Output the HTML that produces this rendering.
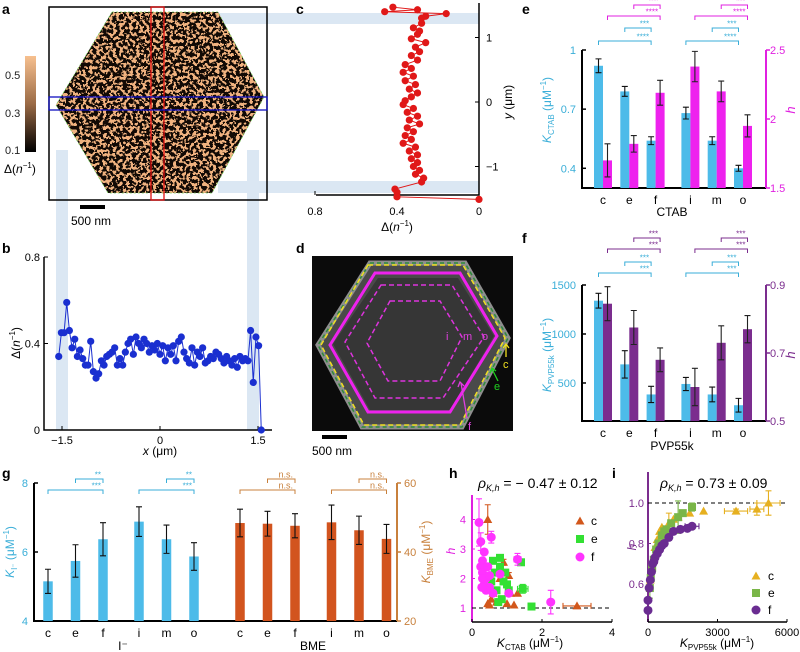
<!DOCTYPE html>
<html><head><meta charset="utf-8"><style>
html,body{margin:0;padding:0;background:#fff;}
svg{display:block;font-family:"Liberation Sans",Arial,sans-serif;}
</style></head><body>
<svg id="fig" width="800" height="652" viewBox="0 0 800 652" xmlns="http://www.w3.org/2000/svg">
<defs>
<clipPath id="hexA"><polygon points="112,12 218,12 264,97 212,193 108,193 56,105"/></clipPath>
<filter id="noise" x="0" y="0" width="100%" height="100%">
<feTurbulence type="fractalNoise" baseFrequency="0.3" numOctaves="2" seed="7" result="t"/>
<feColorMatrix in="t" type="matrix" values="0 0 0 0 0  0 0 0 0 0  0 0 0 0 0  4 0 0 0 -1.6" result="a"/>
<feComponentTransfer in="a" result="b"><feFuncA type="discrete" tableValues="0 1"/></feComponentTransfer>
<feFlood flood-color="#f0b27f" result="f"/>
<feComposite in="f" in2="b" operator="in"/>
</filter>
<linearGradient id="cbar" x1="0" y1="1" x2="0" y2="0"><stop offset="0" stop-color="#000"/><stop offset="0.5" stop-color="#9a6a45"/><stop offset="1" stop-color="#f7c08f"/></linearGradient>
</defs>

<g fill="#dbe7f3">
<rect x="56" y="150" width="12" height="280"/>
<rect x="247" y="150" width="12" height="280"/>
<rect x="218" y="13" width="261" height="11"/>
<rect x="218" y="181" width="261" height="12"/>
</g>

<g>
<text x="2" y="14" font-size="14" font-weight="bold">a</text>
<rect x="49" y="7" width="218" height="193" fill="none" stroke="#000" stroke-width="1.5"/>
<g clip-path="url(#hexA)">
<rect x="49" y="7" width="218" height="193" fill="#120a05"/>
<rect x="49" y="7" width="218" height="193" filter="url(#noise)"/>
</g>
<polygon points="112,12 218,12 264,97 212,193 108,193 56,105" fill="none" stroke="#7ccf5c" stroke-width="0.8" stroke-dasharray="2,2"/>
<rect x="151" y="7" width="13" height="193" fill="none" stroke="#e01010" stroke-width="1.3"/>
<rect x="49" y="97" width="218" height="13" fill="none" stroke="#1010c0" stroke-width="1.3"/>
<rect x="25" y="56" width="11" height="96" fill="url(#cbar)"/>
<g font-size="11" fill="#222">
<text x="5" y="79">0.5</text><text x="5" y="117">0.3</text><text x="5" y="154">0.1</text>
</g>
<text x="4" y="173" font-size="12">Δ(<tspan font-style="italic">n</tspan><tspan font-size="8" dy="-5">−1</tspan><tspan dy="5">)</tspan></text>
<rect x="80" y="205" width="25" height="4" fill="#000"/>
<text x="71" y="225" font-size="12">500 nm</text>
</g>

<g>
<text x="296" y="14" font-size="14" font-weight="bold">c</text>
<text x="397" y="231" font-size="12" text-anchor="middle">Δ(<tspan font-style="italic">n</tspan><tspan font-size="8" dy="-5">−1</tspan><tspan dy="5">)</tspan></text>
<text transform="translate(512,102) rotate(-90)" font-size="12" text-anchor="middle"><tspan font-style="italic">y</tspan> (μm)</text>
</g>

<g>
<text x="2" y="253" font-size="14" font-weight="bold">b</text>
<text transform="translate(20,343) rotate(-90)" font-size="12" text-anchor="middle">Δ(<tspan font-style="italic">n</tspan><tspan font-size="8" dy="-5">−1</tspan><tspan dy="5">)</tspan></text>
<text x="160" y="455" font-size="12" text-anchor="middle"><tspan font-style="italic">x</tspan> (μm)</text>
</g>

<g>
<text x="296" y="253" font-size="14" font-weight="bold">d</text>
<rect x="312" y="256" width="201" height="175" fill="#0b0b0b"/>
<polygon points="370,263 465,263 508,338 462,427 362,427 318,345" fill="#4a4a4a" stroke="#8e8e8e" stroke-width="5"/>
<polygon points="378,278 458,278 494,336 450,410 370,410 333,344" fill="#363636"/>
<polygon points="370,263 465,263 508,338 462,427 362,427 318,345" fill="none" stroke="#2e8b3a" stroke-width="1.5" stroke-dasharray="4,3"/>
<polygon points="368,265 463,265 505,338 460,425 364,425 321,345" fill="none" stroke="#f0e020" stroke-width="1.5" stroke-dasharray="5,3"/>
<polygon points="375,273 460,273 497,336 450,412 368,412 330,345" fill="none" stroke="#ee22ee" stroke-width="3"/>
<polygon points="381,285 452,285 484,337 443,398 375,398 345,342" fill="none" stroke="#dd33dd" stroke-width="1.5" stroke-dasharray="5,3"/>
<polygon points="390,301 440,301 462,337 440,381 388,381 367,343" fill="none" stroke="#dd33dd" stroke-width="1.5" stroke-dasharray="5,3"/>
<g font-size="11" fill="#e040e0"><text x="446" y="340">i</text><text x="463" y="340">m</text><text x="482" y="340">o</text></g>
<path d="M506,357 V345 M503,348 L506,344 L509,348" stroke="#f0e020" stroke-width="1.3" fill="none"/>
<text x="503" y="368" font-size="11" fill="#f0e020">c</text>
<path d="M498,381 L492,369 M490,373 L492,368 L496,371" stroke="#20d020" stroke-width="1.3" fill="none"/>
<text x="494" y="390" font-size="11" fill="#20d020">e</text>
<path d="M467,418 L461,383 M458,387 L460,382 L464,386" stroke="#e040e0" stroke-width="1.3" fill="none"/>
<text x="468" y="430" font-size="11" fill="#e040e0">f</text>
<rect x="322" y="435" width="25" height="4" fill="#000"/>
<text x="312" y="455" font-size="12">500 nm</text>
</g>

<g>
<text x="522" y="14" font-size="14" font-weight="bold">e</text>
<text transform="translate(551,110) rotate(-90)" font-size="12" fill="#3aaed8" text-anchor="middle"><tspan font-style="italic">K</tspan><tspan font-size="8" dy="3">CTAB</tspan><tspan dy="-3"> (μM</tspan><tspan font-size="8" dy="-5">−1</tspan><tspan dy="5">)</tspan></text>
<text transform="translate(795,110) rotate(-90)" font-size="13" fill="#e020e0" font-style="italic" text-anchor="middle">h</text>
<text x="672" y="216" font-size="12" text-anchor="middle">CTAB</text>
</g>
<g>
<text x="522" y="243" font-size="14" font-weight="bold">f</text>
<text transform="translate(551,355) rotate(-90)" font-size="12" fill="#3aaed8" text-anchor="middle"><tspan font-style="italic">K</tspan><tspan font-size="8" dy="3">PVP55k</tspan><tspan dy="-3"> (μM</tspan><tspan font-size="8" dy="-5">−1</tspan><tspan dy="5">)</tspan></text>
<text transform="translate(795,355) rotate(-90)" font-size="13" fill="#7b2d8e" font-style="italic" text-anchor="middle">h</text>
<text x="672" y="450" font-size="12" text-anchor="middle">PVP55k</text>
</g>
<g>
<text x="2" y="478" font-size="14" font-weight="bold">g</text>
<text transform="translate(14,552) rotate(-90)" font-size="12" fill="#3aaed8" text-anchor="middle"><tspan font-style="italic">K</tspan><tspan font-size="8" dy="3">I⁻</tspan><tspan dy="-3"> (μM</tspan><tspan font-size="8" dy="-5">−1</tspan><tspan dy="5">)</tspan></text>
<text transform="translate(430,552) rotate(-90)" font-size="12" fill="#c8803c" text-anchor="middle"><tspan font-style="italic">K</tspan><tspan font-size="8" dy="3">BME</tspan><tspan dy="-3"> (μM</tspan><tspan font-size="8" dy="-5">−1</tspan><tspan dy="5">)</tspan></text>
<text x="123" y="650" font-size="12" text-anchor="middle">I⁻</text>
<text x="313" y="650" font-size="12" text-anchor="middle">BME</text>
</g>
<g>
<text x="449" y="478" font-size="14" font-weight="bold">h</text>
<text x="478" y="488" font-size="14"><tspan font-style="italic">ρ</tspan><tspan font-size="9" dy="3" font-style="italic">K,h</tspan><tspan dy="-3"> = − 0.47 ± 0.12</tspan></text>
<text transform="translate(455,551) rotate(-90)" font-size="12" fill="#e020e0" font-style="italic" text-anchor="middle">h</text>
<text x="530" y="647" font-size="12" text-anchor="middle"><tspan font-style="italic">K</tspan><tspan font-size="8" dy="3">CTAB</tspan><tspan dy="-3"> (μM</tspan><tspan font-size="8" dy="-5">−1</tspan><tspan dy="5">)</tspan></text>
</g>
<g>
<text x="612" y="478" font-size="14" font-weight="bold">i</text>
<text x="660" y="488" font-size="14"><tspan font-style="italic">ρ</tspan><tspan font-size="9" dy="3" font-style="italic">K,h</tspan><tspan dy="-3"> = 0.73 ± 0.09</tspan></text>
<text transform="translate(636,547) rotate(-90)" font-size="12" fill="#7b2d8e" font-style="italic" text-anchor="middle">h</text>
<text x="717" y="647" font-size="12" text-anchor="middle"><tspan font-style="italic">K</tspan><tspan font-size="8" dy="3">PVP55k</tspan><tspan dy="-3"> (μM</tspan><tspan font-size="8" dy="-5">−1</tspan><tspan dy="5">)</tspan></text>
</g>
</svg>
<script>
const bDelta = [0.34,0.45,0.45,0.59,0.46,0.38,0.42,0.34,0.37,0.33,0.30,0.30,0.41,0.27,0.24,0.26,0.32,0.30,0.34,0.35,0.36,0.38,0.30,0.33,0.30,0.36,0.40,0.42,0.35,0.43,0.40,0.38,0.42,0.40,0.36,0.39,0.37,0.40,0.35,0.39,0.32,0.38,0.35,0.39,0.32,0.41,0.43,0.36,0.33,0.31,0.38,0.30,0.36,0.34,0.38,0.31,0.32,0.34,0.33,0.36,0.35,0.33,0.31,0.34,0.32,0.30,0.33,0.29,0.34,0.32,0.33,0.32,0.46,0.22,0.43,0.39,0.00];
const bXStart = -1.55, bXEnd = 1.55;
const cY = [1.47,1.43,1.40,1.37,1.33,1.30,1.22,1.15,1.10,1.05,0.98,0.92,0.85,0.78,0.72,0.65,0.58,0.52,0.46,0.40,0.33,0.27,0.20,0.14,0.08,0.02,-0.04,-0.10,-0.16,-0.22,-0.28,-0.34,-0.40,-0.46,-0.52,-0.58,-0.64,-0.70,-0.76,-0.82,-0.88,-0.94,-1.00,-1.06,-1.12,-1.18,-1.24,-1.35,-1.40,-1.47,-1.51];
const cDelta = [0.42,0.30,0.46,0.16,0.26,0.28,0.28,0.32,0.29,0.30,0.33,0.26,0.31,0.29,0.33,0.30,0.36,0.33,0.37,0.32,0.36,0.31,0.34,0.30,0.33,0.36,0.37,0.32,0.35,0.30,0.34,0.29,0.35,0.32,0.36,0.33,0.37,0.31,0.34,0.30,0.33,0.30,0.32,0.29,0.31,0.27,0.28,0.41,0.40,0.40,0.00];

const regions = ['c','e','f','i','m','o'];
const eK = [0.92,0.79,0.54,0.68,0.54,0.40];
const eKerr = [0.035,0.025,0.02,0.03,0.02,0.015];
const eH = [1.70,1.82,2.19,2.38,2.20,1.95];
const eHerr = [0.12,0.06,0.09,0.11,0.075,0.08];
const eLeftTicks = [0.4,0.7,1];
const eRightTicks = [1.5,2,2.5];

const fK = [1340,690,383,490,383,273];
const fKerr = [75,140,83,67,75,70];
const fH = [0.845,0.775,0.68,0.60,0.73,0.77];
const fHerr = [0.05,0.05,0.035,0.055,0.05,0.04];
const fLeftTicks = [500,1000,1500];
const fRightTicks = [0.5,0.7,0.9];

const gI = [5.15,5.74,6.37,6.88,6.37,5.87];
const gIerr = [0.35,0.47,0.48,0.43,0.41,0.40];
const gBME = [48.4,48.2,47.6,48.6,46.3,43.8];
const gBMEerr = [4.0,3.6,3.5,5.0,4.1,4.2];
const gLeftTicks = [4,6,8];
const gRightTicks = [20,40,60];

const hcK = [0.45,0.5,0.45,0.9,1.05,1.1,1.2,3.0,0.6,0.7,1.0,1.3,0.8,0.55];
const hcH = [4.0,1.1,1.15,2.55,2.1,1.5,1.1,1.07,1.5,1.2,1.15,1.5,2.0,1.3];
const hcYerr = [0.5,0,0,0.1,0.1,0,0,0,0,0,0,0,0,0];
const hcXerr = [0,0,0,0,0,0,0,0.4,0,0,0,0,0,0];
const heK = [1.4,1.45,1.7,0.6,0.8,0.9,0.7,0.85,1.0,0.75,1.05,0.65,0.95,0.55,0.8];
const heH = [2.55,1.65,1.05,2.6,2.4,1.9,1.6,1.3,1.8,1.2,1.6,2.2,2.2,1.9,2.7];
const heYerr = [0,0.15,0,0,0,0,0,0,0,0,0,0,0,0,0];
const heXerr = [0,0.15,0,0,0,0,0,0,0,0,0,0,0,0,0];
const hfK = [0.2,0.25,0.55,1.3,0.35,0.3,0.25,0.3,0.4,0.35,0.5,0.6,0.8,1.05,0.45,0.3,0.4,2.25,0.28,0.5];
const hfH = [3.9,3.25,3.4,2.65,2.9,2.6,2.4,2.2,2.0,1.8,1.7,1.5,2.15,1.5,2.4,2.0,1.6,1.2,1.7,2.1];
const hfYerr = [0.8,0.3,0.2,0.2,0,0,0,0,0,0,0,0,0,0,0,0,0,0.4,0,0];
const hfXerr = [0,0,0,0.1,0,0,0,0,0,0,0,0,0,0,0,0,0,0,0,0];
const hXTicks = [0,2,4];
const hYTicks = [1,2,3,4];

const icK = [5200,4700,3800,2400,1800,1300,900,600,400,300,200,150,100,700,1100,500];
const icH = [1.0,0.97,0.96,0.96,0.95,0.93,0.90,0.88,0.82,0.78,0.72,0.68,0.62,0.85,0.92,0.86];
const icYerr = [0.06,0.03,0.01,0,0,0,0.05,0,0,0,0,0,0,0,0,0];
const icXerr = [500,300,500,0,0,0,0,0,0,0,0,0,0,0,0,0];
const ieK = [1900,1300,1000,800,600,450,350,250,180,120,80,1500,700];
const ieH = [0.98,0.93,0.90,0.87,0.84,0.80,0.77,0.72,0.68,0.63,0.58,0.95,0.86];
const ieYerr = [0.02,0.08,0,0,0,0,0,0,0,0,0.05,0,0];
const ieXerr = [0,0,0,0,0,0,0,0,0,0,0,0,0];
const ifK = [0,0,50,100,150,200,300,500,700,900,1100,1400,1700,1900,250,400,600];
const ifH = [0.47,0.52,0.58,0.62,0.66,0.70,0.73,0.77,0.80,0.83,0.86,0.87,0.875,0.885,0.71,0.75,0.79];
const ifYerr = [0,0,0,0,0,0,0,0,0,0,0,0,0,0.01,0,0,0];
const ifXerr = [0,0,0,0,0,0,0,0,0,0,0,0,0,300,0,0,0];
const iXTicks = [0,3000,6000];
const iYTicks = [0.6,0.8,1.0];

const NS = 'http://www.w3.org/2000/svg';
const svg = document.getElementById('fig');
function el(tag, attrs, name, parent) {
  const e = document.createElementNS(NS, tag);
  for (const k in attrs) e.setAttribute(k, attrs[k]);
  
  
  (parent || svg).appendChild(e);
  return e;
}
function txt(x, y, s, attrs, name, parent) {
  const t = el('text', Object.assign({x: x, y: y, 'font-size': 11}, attrs), name, parent);
  t.textContent = s;
  return t;
}
function lin(d0, d1, r0, r1) { return v => r0 + (v - d0) / (d1 - d0) * (r1 - r0); }
function errV(x, y0, y1, col, name, g) {
  el('path', {d: `M${x},${y0}V${y1}M${x-3},${y0}h6M${x-3},${y1}h6`, stroke: col, 'stroke-width': 1.1, fill: 'none'}, name, g);
}
function errH(y, x0, x1, col, name, g) {
  el('path', {d: `M${x0},${y}H${x1}M${x0},${y-3}v6M${x1},${y-3}v6`, stroke: col, 'stroke-width': 1.1, fill: 'none'}, name, g);
}
function fmt(v){ return (v<0?'−':'') + Math.abs(v); }

(function(){
  const g = el('g', {}, 'panel-b-chart');
  const x = lin(-1.5, 1.5, 62, 258), y = lin(0, 0.8, 430, 257);
  el('path', {d: 'M44,257V430H272', stroke: '#000', 'stroke-width': 1.5, fill: 'none'}, 'b-axes', g);
  [0, 0.4, 0.8].forEach(v => {
    el('path', {d: `M44,${y(v)}h4`, stroke: '#000'}, 'b-y-tick', g);
    txt(40, y(v) + 4, String(v), {'text-anchor': 'end'}, 'b-y-tick-label', g);
  });
  [-1.5, 0, 1.5].forEach(v => {
    el('path', {d: `M${x(v)},430v-4`, stroke: '#000'}, 'b-x-tick', g);
    txt(x(v), 444, fmt(v), {'text-anchor': 'middle'}, 'b-x-tick-label', g);
  });
  const step = (bXEnd - bXStart) / (bDelta.length - 1);
  const pts = bDelta.map((d, i) => [x(bXStart + i * step), y(d)]);
  el('polyline', {points: pts.map(p => p.join(',')).join(' '), fill: 'none', stroke: '#1a2fd0', 'stroke-width': 1}, 'b-profile-line', g);
  pts.forEach(p => el('circle', {cx: p[0], cy: p[1], r: 3.6, fill: '#1a2fd0'}, 'b-profile-point', g));
})();

(function(){
  const g = el('g', {}, 'panel-c-chart');
  const x = lin(0, 0.4, 479, 397), y = lin(0, 1, 102, 37.5);
  el('path', {d: 'M479,3V195H316', stroke: '#000', 'stroke-width': 1.5, fill: 'none'}, 'c-axes', g);
  [-1, 0, 1].forEach(v => {
    el('path', {d: `M479,${y(v)}h-4`, stroke: '#000'}, 'c-y-tick', g);
    txt(486, y(v) + 4, fmt(v), {}, 'c-y-tick-label', g);
  });
  [0, 0.4, 0.8].forEach(v => {
    el('path', {d: `M${x(v)},195v-4`, stroke: '#000'}, 'c-x-tick', g);
    txt(x(v), 215, String(v), {'text-anchor': 'middle'}, 'c-x-tick-label', g);
  });
  const pts = cY.map((v, i) => [x(cDelta[i]), y(v)]);
  el('polyline', {points: pts.map(p => p.join(',')).join(' '), fill: 'none', stroke: '#e01818', 'stroke-width': 1}, 'c-profile-line', g);
  pts.forEach(p => el('circle', {cx: p[0], cy: p[1], r: 3.6, fill: '#e01818'}, 'c-profile-point', g));
})();

function barPanel(o) {
  const g = el('g', {}, o.name);
  const yl = lin(o.ld[0], o.ld[1], o.base, o.top), yr = lin(o.rd[0], o.rd[1], o.base, o.top);
  const cx = i => o.x0 + i * o.step + (i >= 3 ? o.gap : 0);
  el('path', {d: `M${o.ax0},${o.top}V${o.base}H${o.ax1}`, stroke: '#000', 'stroke-width': 2, fill: 'none'}, o.name + '-left-axis', g);
  el('path', {d: `M${o.ax1},${o.top}V${o.base}`, stroke: o.rcol, 'stroke-width': 2, fill: 'none'}, o.name + '-right-axis', g);
  o.lt.forEach(v => {
    el('path', {d: `M${o.ax0},${yl(v)}h4`, stroke: '#000', 'stroke-width': 1.5}, 'left-tick', g);
    txt(o.ax0 - 6, yl(v) + 4, String(v), {'text-anchor': 'end', fill: o.lcolText}, 'left-tick-label', g);
  });
  o.rt.forEach(v => {
    el('path', {d: `M${o.ax1},${yr(v)}h4`, stroke: o.rcol, 'stroke-width': 1.5}, 'right-tick', g);
    txt(o.ax1 + 4, yr(v) + 4, String(v), {fill: o.rcol}, 'right-tick-label', g);
  });
  o.cats.forEach((c, i) => {
    const x = cx(i);
    txt(x, o.base + 16, c, {'text-anchor': 'middle', 'font-size': 12}, 'category-label', g);
    el('rect', {x: x - o.bw, y: yl(o.lv[i]), width: o.bw, height: o.base - yl(o.lv[i]), fill: '#4dbbe9'}, 'bar-k-' + c, g);
    el('rect', {x: x, y: yr(o.rv[i]), width: o.bw, height: o.base - yr(o.rv[i]), fill: o.rbar}, 'bar-h-' + c, g);
    errV(x - o.bw / 2, yl(o.lv[i] - o.le[i]), yl(o.lv[i] + o.le[i]), '#111', 'errorbar-k', g);
    errV(x + o.bw / 2, yr(o.rv[i] - o.re[i]), yr(o.rv[i] + o.re[i]), '#222', 'errorbar-h', g);
  });
  [0, 3].forEach(s => {
    const br = (a, b, yy, col, lab) => {
      el('path', {d: `M${a},${yy + 4}V${yy}H${b}V${yy + 4}`, stroke: col, fill: 'none', 'stroke-width': 1}, 'significance-bracket', g);
      txt(b - 2, yy - 1.5, lab, {'text-anchor': 'end', fill: col, 'font-size': 8}, 'significance-label', g);
    };
    const h = o.bw / 2;
    br(cx(s) - h, cx(s + 2) - h, o.by[0], '#3aaed8', o.sl[0]);
    br(cx(s + 1) - h, cx(s + 2) - h, o.by[1], '#3aaed8', o.sl[1]);
    br(cx(s) + h, cx(s + 2) + h, o.by[2], o.rcol, o.sl[2]);
    br(cx(s + 1) + h, cx(s + 2) + h, o.by[3], o.rcol, o.sl[3]);
  });
}
barPanel({name: 'panel-e-chart', cats: regions, lv: eK, le: eKerr, rv: eH, re: eHerr, ld: [0.3, 1], rd: [1.5, 2.5],
  base: 188, top: 50, ax0: 582, ax1: 766, x0: 603, step: 26.3, gap: 8.5, bw: 9, lt: eLeftTicks, rt: eRightTicks,
  lcolText: '#3aaed8', rcol: '#e020e0', rbar: '#ee22ee', by: [41, 28, 16, 5], sl: ['****', '***', '****', '***']});
barPanel({name: 'panel-f-chart', cats: regions, lv: fK, le: fKerr, rv: fH, re: fHerr, ld: [112, 1500], rd: [0.5, 0.9],
  base: 421, top: 285, ax0: 582, ax1: 766, x0: 603, step: 26.3, gap: 8.5, bw: 9, lt: fLeftTicks, rt: fRightTicks,
  lcolText: '#3aaed8', rcol: '#7b2d8e', rbar: '#7b2d8e', by: [273, 262, 249, 238], sl: ['***', '***', '***', '***']});

(function(){
  const g = el('g', {}, 'panel-g-chart');
  const base = 621, top = 483;
  const yl = lin(4, 8, base, top), yr = lin(20, 60, base, top);
  const bw = 9.5;
  const xb = i => 48 + i * 27.5 + (i >= 3 ? 8.5 : 0);
  const xo = i => 240 + i * 27.5 + (i >= 3 ? 9 : 0);
  el('path', {d: `M34,${top}V${base}H397`, stroke: '#000', 'stroke-width': 2, fill: 'none'}, 'g-left-axis', g);
  el('path', {d: `M397,${top}V${base}`, stroke: '#c8803c', 'stroke-width': 2, fill: 'none'}, 'g-right-axis', g);
  gLeftTicks.forEach(v => {
    el('path', {d: `M34,${yl(v)}h4`, stroke: '#000', 'stroke-width': 1.5}, 'g-left-tick', g);
    txt(28, yl(v) + 4, String(v), {'text-anchor': 'end', fill: '#3aaed8'}, 'g-left-tick-label', g);
  });
  gRightTicks.forEach(v => {
    el('path', {d: `M397,${yr(v)}h4`, stroke: '#c8803c', 'stroke-width': 1.5}, 'g-right-tick', g);
    txt(404, yr(v) + 4, String(v), {fill: '#c8803c'}, 'g-right-tick-label', g);
  });
  regions.forEach((c, i) => {
    txt(xb(i), 637, c, {'text-anchor': 'middle', 'font-size': 12}, 'g-category-label', g);
    txt(xo(i), 637, c, {'text-anchor': 'middle', 'font-size': 12}, 'g-category-label', g);
    el('rect', {x: xb(i) - bw / 2, y: yl(gI[i]), width: bw, height: base - yl(gI[i]), fill: '#4dbbe9'}, 'bar-iodide-' + c, g);
    el('rect', {x: xo(i) - bw / 2, y: yr(gBME[i]), width: bw, height: base - yr(gBME[i]), fill: '#d2541e'}, 'bar-bme-' + c, g);
    errV(xb(i), yl(gI[i] - gIerr[i]), yl(gI[i] + gIerr[i]), '#111', 'errorbar-iodide', g);
    errV(xo(i), yr(gBME[i] - gBMEerr[i]), yr(gBME[i] + gBMEerr[i]), '#111', 'errorbar-bme', g);
  });
  const br = (a, b, yy, col, lab) => {
    el('path', {d: `M${a},${yy + 4}V${yy}H${b}V${yy + 4}`, stroke: col, fill: 'none', 'stroke-width': 1}, 'g-significance-bracket', g);
    txt(b - 2, yy - 1.5, lab, {'text-anchor': 'end', fill: col, 'font-size': lab === 'n.s.' ? 9 : 8}, 'g-significance-label', g);
  };
  [0, 3].forEach(s => {
    br(xb(s), xb(s + 2), 490, '#3aaed8', '***');
    br(xb(s + 1), xb(s + 2), 479, '#3aaed8', '**');
    br(xo(s), xo(s + 2), 490, '#c8803c', 'n.s.');
    br(xo(s + 1), xo(s + 2), 479, '#c8803c', 'n.s.');
  });
})();

function marker(shape, x, y, col, name, g) {
  if (shape === 'tri') el('path', {d: `M${x},${y - 4.5}L${x + 4.5},${y + 3.5}H${x - 4.5}Z`, fill: col}, name, g);
  else if (shape === 'sq') el('rect', {x: x - 4, y: y - 4, width: 8, height: 8, fill: col}, name, g);
  else el('circle', {cx: x, cy: y, r: 4.5, fill: col}, name, g);
}
function series(g, xs, ys, ye, xe, X, Y, col, shape, name) {
  xs.forEach((k, i) => {
    if (ye[i]) errV(X(k), Y(ys[i] - ye[i]), Y(ys[i] + ye[i]), col, name + '-yerr', g);
    if (xe[i]) errH(Y(ys[i]), X(k - xe[i]), X(k + xe[i]), col, name + '-xerr', g);
    marker(shape, X(k), Y(ys[i]), col, name + '-point', g);
  });
}

(function(){
  const g = el('g', {}, 'panel-h-chart');
  const X = lin(0, 4, 472, 612), Y = lin(1, 4, 608, 519.5);
  el('path', {d: 'M472,495V622', stroke: '#e020e0', 'stroke-width': 2}, 'h-y-axis', g);
  el('path', {d: 'M472,622H612', stroke: '#000', 'stroke-width': 1.5}, 'h-x-axis', g);
  hYTicks.forEach(v => {
    el('path', {d: `M472,${Y(v)}h3`, stroke: '#e020e0'}, 'h-y-tick', g);
    txt(466, Y(v) + 4, String(v), {'text-anchor': 'end', fill: '#e020e0'}, 'h-y-tick-label', g);
  });
  hXTicks.forEach(v => {
    el('path', {d: `M${X(v)},622v-3`, stroke: '#000'}, 'h-x-tick', g);
    txt(X(v), 636, String(v), {'text-anchor': 'middle'}, 'h-x-tick-label', g);
  });
  el('path', {d: `M472,${Y(1)}H612`, stroke: '#000', 'stroke-dasharray': '4,3'}, 'h-reference-line', g);
  series(g, hcK, hcH, hcYerr, hcXerr, X, Y, '#d2571b', 'tri', 'h-series-c');
  series(g, heK, heH, heYerr, heXerr, X, Y, '#33e033', 'sq', 'h-series-e');
  series(g, hfK, hfH, hfYerr, hfXerr, X, Y, '#ff33ff', 'circ', 'h-series-f');
  [['tri', '#d2571b', 'c'], ['sq', '#33e033', 'e'], ['circ', '#ff33ff', 'f']].forEach((l, i) => {
    marker(l[0], 580, 521 + i * 18, l[1], 'h-legend-marker', g);
    txt(591, 525 + i * 18, l[2], {'font-size': 12}, 'h-legend-label', g);
  });
})();

(function(){
  const g = el('g', {}, 'panel-i-chart');
  const X = lin(0, 6000, 648, 787), Y = lin(0.6, 1.0, 584, 503);
  el('path', {d: 'M648,472V622', stroke: '#7b2d8e', 'stroke-width': 2}, 'i-y-axis', g);
  el('path', {d: 'M648,622H787', stroke: '#000', 'stroke-width': 1.5}, 'i-x-axis', g);
  iYTicks.forEach(v => {
    el('path', {d: `M648,${Y(v)}h3`, stroke: '#7b2d8e'}, 'i-y-tick', g);
    txt(644, Y(v) + 4, v.toFixed(1), {'text-anchor': 'end', fill: '#7b2d8e'}, 'i-y-tick-label', g);
  });
  iXTicks.forEach(v => {
    el('path', {d: `M${X(v)},622v-3`, stroke: '#000'}, 'i-x-tick', g);
    txt(X(v), 636, String(v), {'text-anchor': 'middle'}, 'i-x-tick-label', g);
  });
  el('path', {d: `M648,${Y(1)}H787`, stroke: '#000', 'stroke-dasharray': '4,3'}, 'i-reference-line', g);
  series(g, icK, icH, icYerr, icXerr, X, Y, '#e6b020', 'tri', 'i-series-c');
  series(g, ieK, ieH, ieYerr, ieXerr, X, Y, '#7ab648', 'sq', 'i-series-e');
  series(g, ifK, ifH, ifYerr, ifXerr, X, Y, '#6a2c91', 'circ', 'i-series-f');
  [['tri', '#e6b020', 'c'], ['sq', '#7ab648', 'e'], ['circ', '#6a2c91', 'f']].forEach((l, i) => {
    marker(l[0], 756, 576 + i * 17, l[1], 'i-legend-marker', g);
    txt(768, 580 + i * 17, l[2], {'font-size': 12}, 'i-legend-label', g);
  });
})();
</script>
</body></html>
